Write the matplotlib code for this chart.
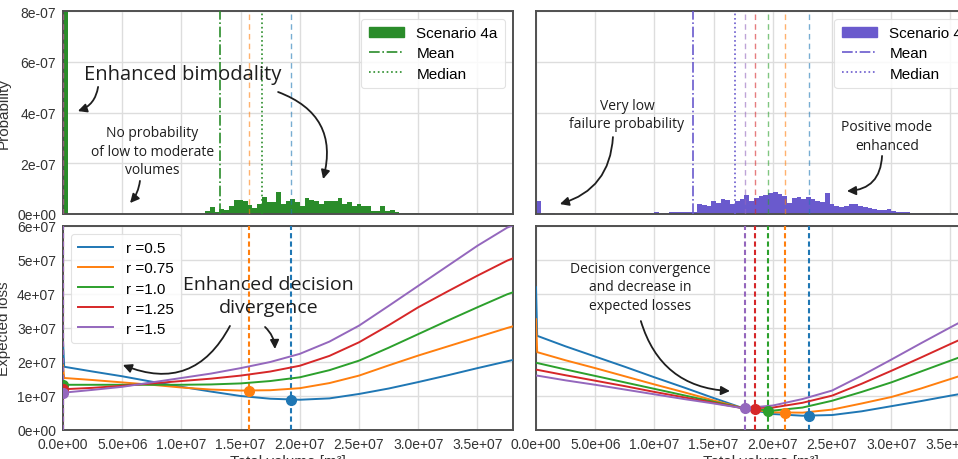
import numpy as np
import matplotlib
matplotlib.use('Agg')
import matplotlib.pyplot as plt
from matplotlib.patches import Patch
from matplotlib.lines import Line2D
from matplotlib.ticker import FuncFormatter

plt.rcParams['font.family'] = ['Liberation Sans', 'DejaVu Sans']

# ---------------- data ----------------
bin_width = 4e5
# histogram probabilities (units of 1e-7), bins of width 4e5 starting at 0
hist_4a = ([24.0] + [0.0] * 29 +
           [0.13, 0.26, 0.07, 0.18, 0.15, 0.30, 0.55, 0.55, 0.50, 0.35,
            0.22, 0.38, 0.66, 0.46, 0.49, 0.86, 0.40, 0.53, 0.59, 0.46,
            0.30, 0.62, 0.55, 0.50, 0.38, 0.50, 0.50, 0.52, 0.62, 0.40,
            0.46, 0.33, 0.39, 0.30, 0.33, 0.10, 0.10, 0.33, 0.13, 0.17,
            0.07, 0.04, 0.03, 0.02, 0.02, 0.01] + [0.0] * 24)
hist_4b = ([0.50] +
           [0.00, 0.01, 0.02, 0.01, 0.05, 0.02, 0.03, 0.02, 0.03, 0.04,
            0.03, 0.02, 0.04, 0.03, 0.05, 0.03, 0.04, 0.03, 0.05, 0.04,
            0.05, 0.04, 0.05, 0.05, 0.06, 0.05, 0.05, 0.06, 0.06, 0.07,
            0.06, 0.08] +
           [0.08] +
           [0.39, 0.36, 0.33, 0.50, 0.45, 0.59, 0.57, 0.40, 0.50, 0.59,
            0.75, 0.53, 0.62, 0.70, 0.76, 0.83, 0.88, 0.80, 0.72, 0.42,
            0.62, 0.66, 0.60, 0.66] +
           [0.60, 0.53, 0.46, 0.83, 0.40, 0.30, 0.28, 0.33, 0.40, 0.39,
            0.30, 0.26, 0.24, 0.20, 0.16, 0.14, 0.20, 0.13, 0.09, 0.07,
            0.06, 0.04, 0.04, 0.03, 0.03, 0.02, 0.02, 0.01] + [0.0] * 14)

mean_a, median_a = 1.326e7, 1.68e7
mean_b, median_b = 1.324e7, 1.68e7

r_values = [0.5, 0.75, 1.0, 1.25, 1.5]
r_colors = ['#1f77b4', '#ff7f0e', '#2ca02c', '#d62728', '#9467bd']

# expected loss curves (units of 1e7)
loss_x = [0, 1e5, 2.5e6, 5e6, 7.5e6, 1e7, 1.25e7, 1.5e7, 1.75e7, 2e7,
          2.25e7, 2.5e7, 2.75e7, 3e7, 3.25e7, 3.5e7, 3.75e7, 3.8e7]
loss_a = [
    [2.60, 1.86, 1.72, 1.58, 1.42, 1.27, 1.13, 1.00, 0.92, 0.89, 0.93, 1.06, 1.22, 1.41, 1.61, 1.82, 2.02, 2.06],
    [1.90, 1.53, 1.47, 1.40, 1.33, 1.25, 1.19, 1.16, 1.17, 1.23, 1.38, 1.60, 1.90, 2.19, 2.46, 2.73, 3.00, 3.05],
    [1.33, 1.33, 1.33, 1.33, 1.33, 1.33, 1.34, 1.37, 1.44, 1.55, 1.76, 2.04, 2.42, 2.82, 3.22, 3.61, 3.99, 4.05],
    [1.20, 1.20, 1.24, 1.30, 1.37, 1.44, 1.51, 1.60, 1.72, 1.89, 2.18, 2.58, 3.08, 3.61, 4.08, 4.54, 4.98, 5.05],
    [1.10, 1.10, 1.18, 1.27, 1.40, 1.53, 1.66, 1.82, 2.00, 2.24, 2.60, 3.07, 3.65, 4.24, 4.83, 5.42, 5.95, 6.02],
]
loss_b = [
    [4.20, 2.77, 2.46, 2.16, 1.86, 1.55, 1.25, 0.94, 0.64, 0.47, 0.42, 0.44, 0.55, 0.70, 0.85, 1.01, 1.16, 1.19],
    [3.26, 2.29, 2.05, 1.82, 1.58, 1.34, 1.11, 0.87, 0.64, 0.52, 0.51, 0.60, 0.78, 0.97, 1.22, 1.50, 1.78, 1.83],
    [1.97, 1.97, 1.78, 1.59, 1.40, 1.21, 1.02, 0.83, 0.64, 0.57, 0.66, 0.86, 1.12, 1.40, 1.72, 2.04, 2.36, 2.42],
    [1.77, 1.77, 1.61, 1.45, 1.29, 1.12, 0.96, 0.80, 0.64, 0.66, 0.80, 1.01, 1.36, 1.74, 2.13, 2.53, 2.92, 3.00],
    [1.60, 1.60, 1.46, 1.33, 1.19, 1.05, 0.91, 0.78, 0.64, 0.72, 0.91, 1.16, 1.60, 2.07, 2.55, 3.02, 3.48, 3.56],
]
opt_x_a = [1.926e7, 1.571e7, 0.0, 0.0, 0.0]
opt_y_a = [0.89, 1.16, 1.33, 1.20, 1.10]
opt_x_b = [2.305e7, 2.10e7, 1.962e7, 1.849e7, 1.768e7]
opt_y_b = [0.41, 0.50, 0.56, 0.62, 0.64]

x_ticks = [0, 5e6, 1e7, 1.5e7, 2e7, 2.5e7, 3e7, 3.5e7]
p_ticks = [0, 2e-7, 4e-7, 6e-7, 8e-7]
l_ticks = [0, 1e7, 2e7, 3e7, 4e7, 5e7, 6e7]

green_hist = '#2a8c2a'
purple_hist = '#6a5acd'
text_font = ['Open Sans', 'DejaVu Sans']
x_label = 'Total volume [m³]'

# ---------------- layout ----------------
W, H = 958, 460
fig = plt.figure(figsize=(W / 100, H / 100), dpi=100)


def rect(l, t, r, b):
    return [l / W, 1 - b / H, (r - l) / W, (b - t) / H]


ax_ta = fig.add_axes(rect(63, 12, 513, 215))
ax_la = fig.add_axes(rect(63, 227, 513, 431))
ax_tb = fig.add_axes(rect(536, 12, 986, 215))
ax_lb = fig.add_axes(rect(536, 227, 986, 431))

xfmt = FuncFormatter(lambda v, p: f'{v:.1e}')
yfmt = FuncFormatter(lambda v, p: f'{v:.0e}')


def style(ax, top, show_y):
    ax.set_facecolor('white')
    ax.grid(True, color='#dddddd', lw=1.0)
    ax.set_axisbelow(True)
    for s in ax.spines.values():
        s.set_color('#505050')
        s.set_linewidth(1.4)
    ax.tick_params(length=0, labelsize=10, colors='#333333', pad=5)
    ax.set_xlim(0, 3.8e7)
    ax.set_xticks(x_ticks)
    ax.xaxis.set_major_formatter(xfmt)
    if top:
        ax.set_ylim(0, 8e-7)
        ax.set_yticks(p_ticks)
        ax.tick_params(labelbottom=False)
    else:
        ax.set_ylim(0, 6e7)
        ax.set_yticks(l_ticks)
        ax.set_xlabel(x_label, fontsize=11, color='#333333', labelpad=2)
    ax.yaxis.set_major_formatter(yfmt)
    if not show_y:
        ax.tick_params(labelleft=False)


for ax, top, sy in [(ax_ta, True, True), (ax_la, False, True),
                    (ax_tb, True, False), (ax_lb, False, False)]:
    style(ax, top, sy)

ax_ta.set_ylabel('Probability', fontsize=11, color='#333333')
ax_ta.yaxis.set_label_coords(-0.116, 0.5)
ax_la.set_ylabel('Expected loss', fontsize=11, color='#333333')
ax_la.yaxis.set_label_coords(-0.116, 0.5)

leg_kw = dict(fontsize=11, frameon=True, fancybox=True, framealpha=0.85,
              edgecolor='#dddddd', borderpad=0.5, handlelength=2.3,
              handletextpad=0.8, labelspacing=0.4)

# ---------------- histograms ----------------
for ax, hist, col, mean, med, name, opt_x in [
        (ax_ta, hist_4a, green_hist, mean_a, median_a, 'Scenario 4a', opt_x_a),
        (ax_tb, hist_4b, purple_hist, mean_b, median_b, 'Scenario 4b', opt_x_b)]:
    edges = np.arange(len(hist)) * bin_width
    ax.bar(edges, np.array(hist) * 1e-7, width=bin_width, align='edge',
           color=col, linewidth=0, zorder=2)
    ax.axvline(mean, color=col, ls='-.', lw=1.2, zorder=3)
    ax.axvline(med, color=col, ls=':', lw=1.2, zorder=3)
    for xo, c in zip(opt_x, r_colors):
        ax.axvline(xo, color=c, ls=(0, (4, 3)), lw=1.0, alpha=0.6, zorder=3)
    handles = [Patch(color=col, label=name),
               Line2D([], [], color=col, ls='-.', lw=1.2, label='Mean'),
               Line2D([], [], color=col, ls=':', lw=1.2, label='Median')]
    leg = ax.legend(handles=handles, loc='upper right', **leg_kw)
    leg.get_frame().set_linewidth(0.8)

# ---------------- loss curves ----------------
for ax, losses, ox, oy in [(ax_la, loss_a, opt_x_a, opt_y_a),
                           (ax_lb, loss_b, opt_x_b, opt_y_b)]:
    for r, c, ys, xo, yo in zip(r_values, r_colors, losses, ox, oy):
        ax.plot(loss_x, np.array(ys) * 1e7, color=c, lw=1.4, label=f'r ={r}', zorder=3)
        ax.axvline(xo, color=c, ls=(0, (2.5, 1.5)), lw=1.5, zorder=3)
        ax.plot([xo], [yo * 1e7], 'o', color=c, ms=7, zorder=4)

leg = ax_la.legend(loc='upper left', **leg_kw)
leg.get_frame().set_linewidth(0.8)

# ---------------- annotations ----------------
tc = '#1e1e1e'


def arrow(ax, start, end, rad):
    ax.annotate('', xy=end, xytext=start, xycoords='axes fraction',
                textcoords='axes fraction', annotation_clip=False,
                arrowprops=dict(arrowstyle='-|>', color=tc, lw=1.3,
                                connectionstyle=f'arc3,rad={rad}',
                                mutation_scale=13, shrinkA=0, shrinkB=0),
                zorder=6)


def label(ax, pos, s, size, ls):
    ax.text(pos[0], pos[1], s, transform=ax.transAxes, ha='center', va='center',
            multialignment='center', fontsize=size, color=tc, family=text_font,
            zorder=6, linespacing=ls)


label(ax_ta, (0.267, 0.69), 'Enhanced bimodality', 14.5, 1.2)
arrow(ax_ta, (0.078, 0.626), (0.033, 0.507), -0.3)
arrow(ax_ta, (0.478, 0.601), (0.578, 0.172), -0.45)
label(ax_ta, (0.198, 0.31), 'No probability\nof low to moderate\nvolumes', 10, 1.35)
arrow(ax_ta, (0.171, 0.163), (0.149, 0.054), -0.15)

label(ax_tb, (0.202, 0.49), 'Very low\nfailure probability', 10, 1.35)
arrow(ax_tb, (0.171, 0.379), (0.053, 0.049), -0.35)
label(ax_tb, (0.78, 0.385), 'Positive mode\nenhanced', 10, 1.35)
arrow(ax_tb, (0.769, 0.286), (0.691, 0.113), -0.45)

label(ax_la, (0.456, 0.659), 'Enhanced decision\ndivergence', 14, 1.4)
arrow(ax_la, (0.371, 0.51), (0.133, 0.319), -0.45)
arrow(ax_la, (0.449, 0.505), (0.471, 0.397), -0.2)

label(ax_lb, (0.231, 0.701), 'Decision convergence\nand decrease in\nexpected losses', 10, 1.35)
arrow(ax_lb, (0.233, 0.534), (0.431, 0.191), 0.35)

fig.savefig('out.png', dpi=100)
